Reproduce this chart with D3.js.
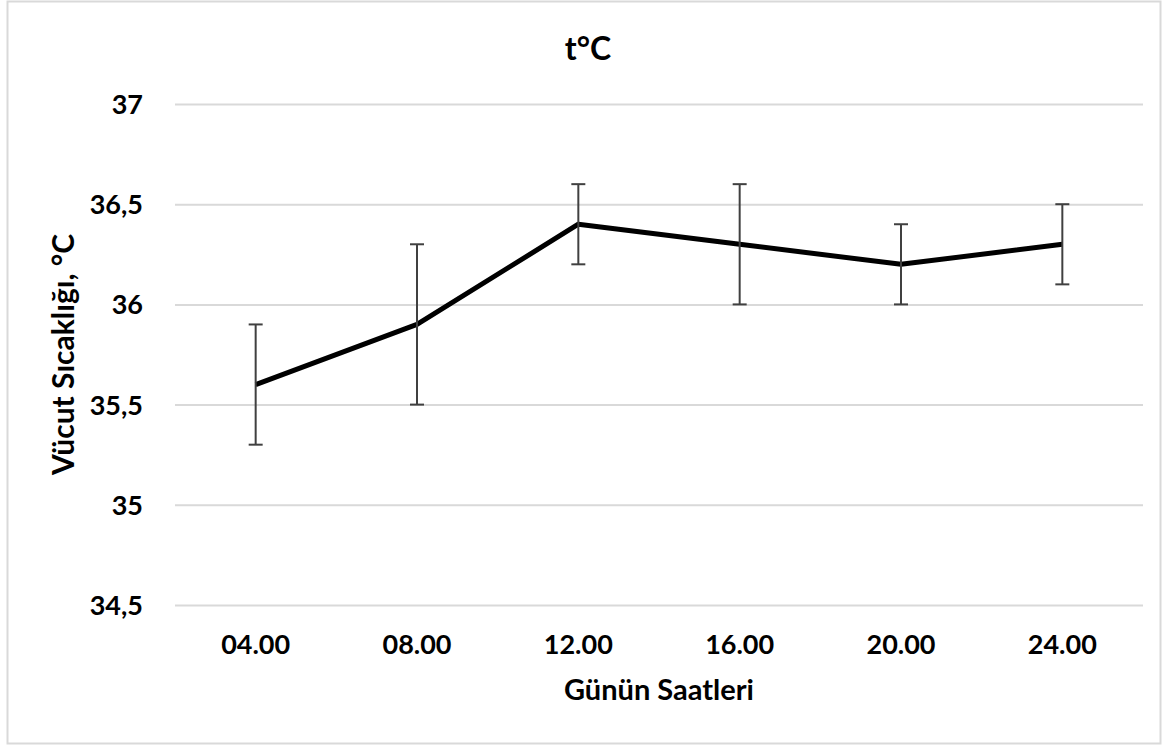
<!DOCTYPE html>
<html>
<head>
<meta charset="utf-8">
<script src="https://cdn.jsdelivr.net/npm/d3@7"></script>
<style>
  body { margin: 0; background: #fff; }
  text { font-family: Lato, "Open Sans", sans-serif; font-weight: bold; fill: #000; }
</style>
</head>
<body>
<div id="chart"></div>
<script>
// chart data
var hours = ["04.00", "08.00", "12.00", "16.00", "20.00", "24.00"];
var temps = [35.6, 35.9, 36.4, 36.3, 36.2, 36.3];
var errLow = [35.3, 35.5, 36.2, 36.0, 36.0, 36.1];
var errHigh = [35.9, 36.3, 36.6, 36.6, 36.4, 36.5];
var yTicks = [34.5, 35, 35.5, 36, 36.5, 37];

var w = 1168, h = 747;
var plotLeft = 175, plotRight = 1143, plotTop = 104, plotBottom = 605;

var svg = d3.select("#chart").append("svg")
    .attr("width", w)
    .attr("height", h);

// outer frame
svg.append("rect")
    .attr("x", 7.5).attr("y", 1.5)
    .attr("width", 1153).attr("height", 742)
    .attr("fill", "#fff")
    .attr("stroke", "#d9d9d9")
    .attr("stroke-width", 2);

var x = d3.scaleBand().domain(hours).range([plotLeft, plotRight]);
var y = d3.scaleLinear().domain([34.5, 37]).range([plotBottom, plotTop]);

// grid + y labels
var yAxis = d3.axisLeft(y)
    .tickValues(yTicks)
    .tickSize(-(plotRight - plotLeft))
    .tickPadding(32)
    .tickFormat(d => String(d).replace(".", ","));

var gy = svg.append("g")
    .attr("transform", "translate(" + plotLeft + ",0)")
    .call(yAxis);
gy.select(".domain").remove();
gy.selectAll(".tick line").attr("stroke", "#d9d9d9").attr("stroke-width", 2);
gy.selectAll(".tick text").attr("font-size", 27).attr("dy", "0.35em")
    .attr("font-family", "Lato, sans-serif");

// x labels
var xAxis = d3.axisBottom(x).tickSize(0).tickPadding(30);
var gx = svg.append("g")
    .attr("transform", "translate(0," + plotBottom + ")")
    .call(xAxis);
gx.select(".domain").remove();
gx.selectAll(".tick text").attr("font-size", 27)
    .attr("font-family", "Lato, sans-serif");

var cx = d => x(d) + x.bandwidth() / 2;

// line
var line = d3.line()
    .x((d, i) => cx(hours[i]))
    .y(d => y(d));

svg.append("path")
    .datum(temps)
    .attr("fill", "none")
    .attr("stroke", "#000")
    .attr("stroke-width", 5)
    .attr("stroke-linejoin", "round")
    .attr("d", line);

// error bars
var eb = svg.append("g").attr("stroke", "#404040").attr("stroke-width", 2);
hours.forEach(function (hr, i) {
    var px = cx(hr);
    eb.append("line").attr("x1", px).attr("x2", px)
        .attr("y1", y(errLow[i])).attr("y2", y(errHigh[i]));
    eb.append("line").attr("x1", px - 7).attr("x2", px + 7)
        .attr("y1", y(errLow[i])).attr("y2", y(errLow[i]));
    eb.append("line").attr("x1", px - 7).attr("x2", px + 7)
        .attr("y1", y(errHigh[i])).attr("y2", y(errHigh[i]));
});

// titles
svg.append("text")
    .attr("x", 588).attr("y", 60)
    .attr("text-anchor", "middle")
    .attr("font-size", 32)
    .text("t°C");

svg.append("text")
    .attr("x", (plotLeft + plotRight) / 2).attr("y", 700)
    .attr("text-anchor", "middle")
    .attr("font-size", 29)
    .text("Günün Saatleri");

svg.append("text")
    .attr("transform", "translate(74," + (plotTop + plotBottom) / 2 + ") rotate(-90)")
    .attr("text-anchor", "middle")
    .attr("font-size", 30)
    .text("Vücut Sıcaklığı, °C");
</script>
</body>
</html>
